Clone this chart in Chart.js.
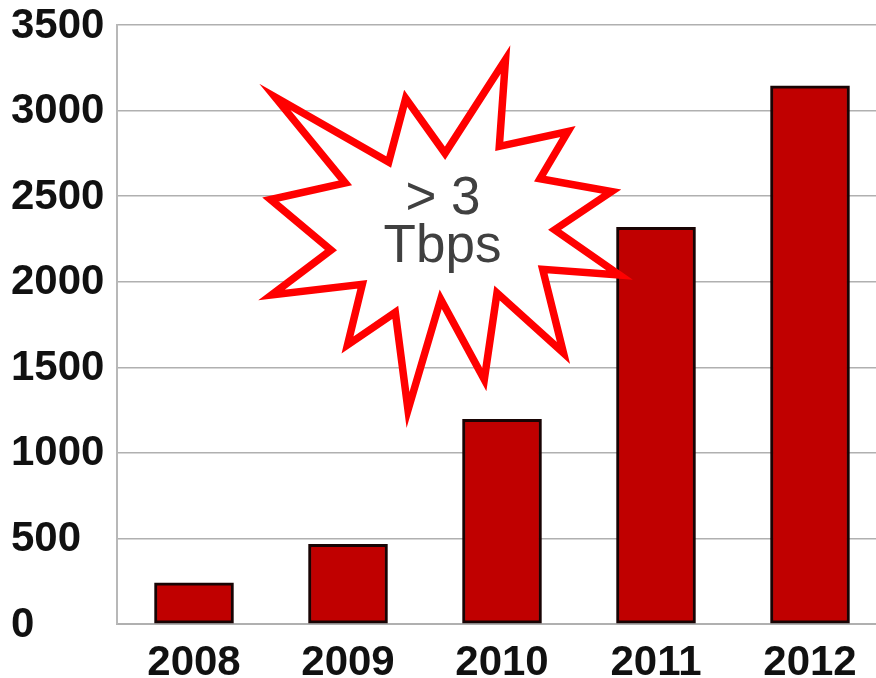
<!DOCTYPE html>
<html>
<head>
<meta charset="utf-8">
<script src="https://cdn.jsdelivr.net/npm/chart.js@4"></script>
<style>
html,body{margin:0;padding:0;background:#fff;overflow:hidden;width:876px;height:678px}
canvas{display:block}
</style>
</head>
<body>
<canvas id="c" width="900" height="678" style="width:900px;height:678px"></canvas>
<script>
const categories = ['2008', '2009', '2010', '2011', '2012'];
const trafficValues = [240, 465, 1197, 2318, 3146];
const yTickValues = [0, 500, 1000, 1500, 2000, 2500, 3000, 3500];
const calloutLines = ['> 3', 'Tbps'];

// Decorative starburst outline (page pixels), not data.
const burstOutline = [
  [275,97],[388.7,162],[405.7,98.3],[445,153.3],[505.5,59.5],[499.3,146.3],
  [568,131.5],[540,178.7],[611.5,191.5],[554.7,229.7],[619.5,275],[542.7,269.3],
  [563.5,353],[497,293],[484.3,379.5],[440.7,299.3],[408,410],[395.3,312.3],
  [347.5,345],[362.3,284.3],[271.5,295],[331,250],[270.5,199.5],[345.3,183]
];

const burstPlugin = {
  id: 'burst',
  afterDraw(chart) {
    const ctx = chart.ctx;
    ctx.save();
    ctx.beginPath();
    burstOutline.forEach((p, i) => i ? ctx.lineTo(p[0], p[1]) : ctx.moveTo(p[0], p[1]));
    ctx.closePath();
    ctx.fillStyle = '#ffffff';
    ctx.fill();
    ctx.lineWidth = 7.5;
    ctx.lineJoin = 'miter';
    ctx.miterLimit = 20;
    ctx.strokeStyle = '#ff0000';
    ctx.stroke();
    ctx.fillStyle = '#404040';
    ctx.font = '53px "Liberation Sans"';
    ctx.textAlign = 'center';
    ctx.textBaseline = 'alphabetic';
    ctx.fillText(calloutLines[0], 443, 214);
    ctx.fillText(calloutLines[1], 442.5, 262);
    ctx.restore();
  }
};

new Chart(document.getElementById('c'), {
  type: 'bar',
  data: {
    labels: categories,
    datasets: [{
      data: trafficValues,
      backgroundColor: '#c00000',
      borderColor: '#180404',
      borderWidth: 3,
      borderSkipped: false,
      barThickness: 79
    }]
  },
  plugins: [burstPlugin],
  options: {
    responsive: false,
    animation: false,
    layout: { padding: { left: 11, right: 13, top: 24, bottom: 0 } },
    plugins: { legend: { display: false }, tooltip: { enabled: false }, title: { display: false } },
    scales: {
      x: {
        grid: { display: false, drawTicks: false },
        border: { display: true, color: '#b0b0b0', width: 2 },
        ticks: {
          color: '#111111',
          font: { family: '"Liberation Sans"', size: 42, weight: 'bold' },
          padding: 14,
          maxRotation: 0,
          autoSkip: false
        },
        afterFit(scale) { scale.height = 54; }
      },
      y: {
        min: 0,
        max: 3500,
        afterBuildTicks(scale) { scale.ticks = yTickValues.map(v => ({ value: v })); },
        grid: { color: '#b0b0b0', lineWidth: 1.6, drawTicks: false },
        border: { display: true, color: '#b8b8b8', width: 2 },
        ticks: {
          color: '#111111',
          font: { family: '"Liberation Sans"', size: 42, weight: 'bold' },
          crossAlign: 'far',
          padding: 0,
          labelOffset: 1,
          callback(value) { return String(value); }
        },
        afterFit(scale) { scale.width = 106; }
      }
    }
  }
});
</script>
</body>
</html>
